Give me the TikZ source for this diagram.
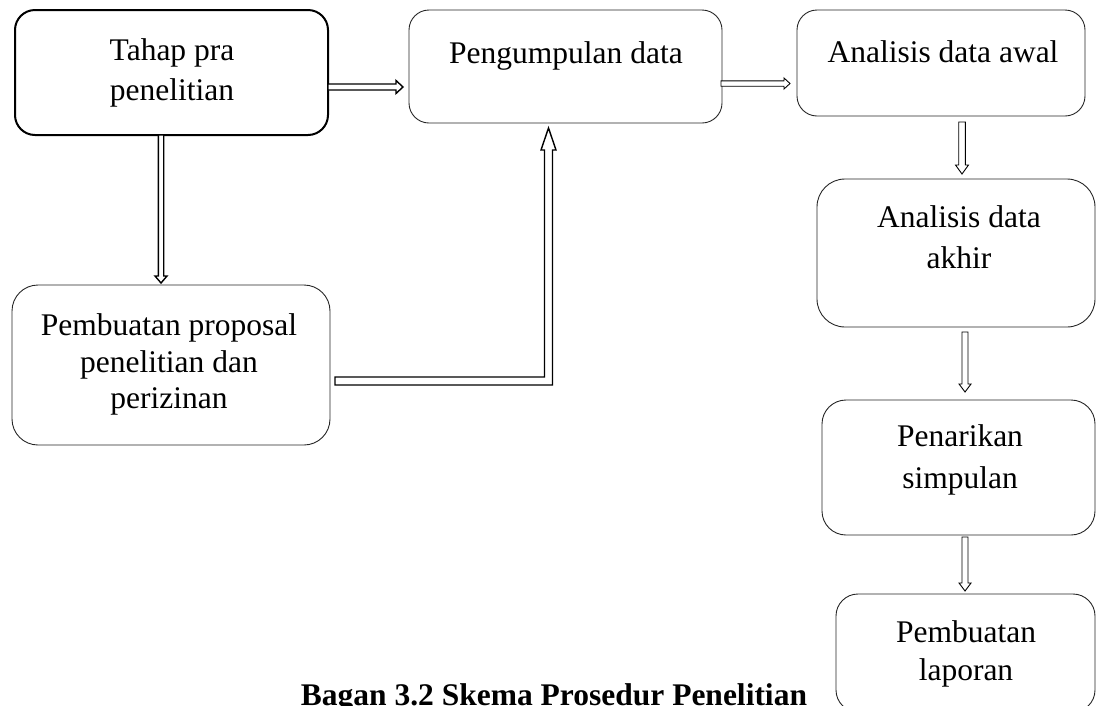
\documentclass[tikz,border=0pt]{standalone}
\usepackage{fontspec}
\setmainfont{Liberation Serif}
\usetikzlibrary{calc}
\newcommand\blkR[6]{\draw[#1] ([yshift=#4pt]#2) -- ([xshift=-#6pt,yshift=#4pt]#3) -- ([xshift=-#6pt,yshift=#5pt]#3) -- (#3) -- ([xshift=-#6pt,yshift=-#5pt]#3) -- ([xshift=-#6pt,yshift=-#4pt]#3) -- ([yshift=-#4pt]#2) -- cycle;}
\newcommand\blkD[6]{\draw[#1] ([xshift=-#4pt]#2) -- ([xshift=-#4pt,yshift=#6pt]#3) -- ([xshift=-#5pt,yshift=#6pt]#3) -- (#3) -- ([xshift=#5pt,yshift=#6pt]#3) -- ([xshift=#4pt,yshift=#6pt]#3) -- ([xshift=#4pt]#2) -- cycle;}
\tikzset{
  box/.style={draw=black!85, line width=0.9pt, rounded corners=#1, inner sep=0pt, outer sep=0pt},
  box/.default=20pt,
  txt/.style={inner sep=0pt, anchor=north, align=center, font=\fontsize{31.5}{#1}\selectfont},
  txt/.default=40,
  arthin/.style={draw=black, fill=white, line width=0.9pt, line join=miter},
  arthick/.style={draw=black, fill=white, line width=1.4pt, line join=miter},
}
\begin{document}
\begin{tikzpicture}[x=1pt,y=-1pt]
\useasboundingbox (0,0) rectangle (1096,705);
\clip (0,0) rectangle (1096,705);
% boxes
\node[box, line width=2pt, draw=black, minimum width=313pt, minimum height=125pt] (b1) at (171.5,72.5) {};
\node[box, minimum width=313pt, minimum height=113pt] (b2) at (565.5,66.5) {};
\node[box, minimum width=288pt, minimum height=106pt] (b3) at (941,63) {};
\node[box=28pt, minimum width=278pt, minimum height=148pt] (b4) at (956,253) {};
\node[box=26pt, minimum width=318pt, minimum height=160pt] (b5) at (171,365) {};
\node[box=24pt, minimum width=273pt, minimum height=135pt] (b6) at (958.5,467.5) {};
\node[box=22pt, minimum width=259pt, minimum height=118pt] (b7) at (965.5,653) {};
% texts
\node[txt=40] (t1) at (172,38.5) {Tahap pra\\penelitian};
\node[txt] (t2) at (566,41.5) {Pengumpulan data};
\node[txt] (t3) at (943,40.5) {Analisis data awal};
\node[txt=41] (t4) at (959,205.5) {Analisis data\\akhir};
\node[txt=36.5] (t5) at (169,313.5) {Pembuatan proposal\\penelitian dan\\perizinan};
\node[txt=42] (t6) at (960,424.5) {Penarikan\\simpulan};
\node[txt=38] (t7) at (966,620.5) {Pembuatan\\laporan};
\node[inner sep=0pt, anchor=base, font=\bfseries\fontsize{31.5}{38}\selectfont] (cap) at (554,705) {Bagan 3.2 Skema Prosedur Penelitian};
% connector end points
\coordinate (a1s) at (b1.east |- 0,87);
\coordinate (a1t) at ($(b2.west |- 0,87)+(-6,0)$);
\coordinate (a2s) at ($(b2.east |- 0,83.5)+(-1,0)$);
\coordinate (a2t) at ($(b3.west |- 0,83.5)+(-7,0)$);
\coordinate (a3s) at (b1.south -| 161,0);
\coordinate (a3t) at ($(b5.north -| 161,0)+(0,-2)$);
\coordinate (a4s) at ($(b5.east |- 0,381)+(5,0)$);
\coordinate (a4t) at ($(b2.south -| 548.5,0)+(0,5)$);
\coordinate (a4c) at (a4s -| a4t);
\coordinate (a5s) at ($(b3.south -| 962,0)+(0,6)$);
\coordinate (a5t) at ($(b4.north -| 962,0)+(0,-5)$);
\coordinate (a6s) at ($(b4.south -| 965,0)+(0,5)$);
\coordinate (a6t) at ($(b6.north -| 965,0)+(0,-8)$);
\coordinate (a7s) at ($(b6.south -| 965,0)+(0,2)$);
\coordinate (a7t) at ($(b7.north -| 965,0)+(0,-3)$);
% block arrows
\blkR{arthick}{a1s}{a1t}{3}{6.5}{7}
\blkR{arthin}{a2s}{a2t}{2.7}{5.5}{6}
\blkD{arthick}{a3s}{a3t}{2.7}{6}{7}
\draw[arthick] ([yshift=4pt]a4s) -- ([xshift=-4pt,yshift=4pt]a4c) -- ([xshift=-4pt,yshift=-22pt]a4t) -- ([xshift=-7.5pt,yshift=-22pt]a4t) -- (a4t) -- ([xshift=7.5pt,yshift=-22pt]a4t) -- ([xshift=4pt,yshift=-22pt]a4t) -- ([xshift=4pt,yshift=-4pt]a4c) -- ([yshift=-4pt]a4s) -- cycle;
\blkD{arthin}{a5s}{a5t}{3.3}{6.5}{9}
\blkD{arthin}{a6s}{a6t}{3}{6}{8}
\blkD{arthin}{a7s}{a7t}{3}{6}{8}
\end{tikzpicture}
\end{document}
